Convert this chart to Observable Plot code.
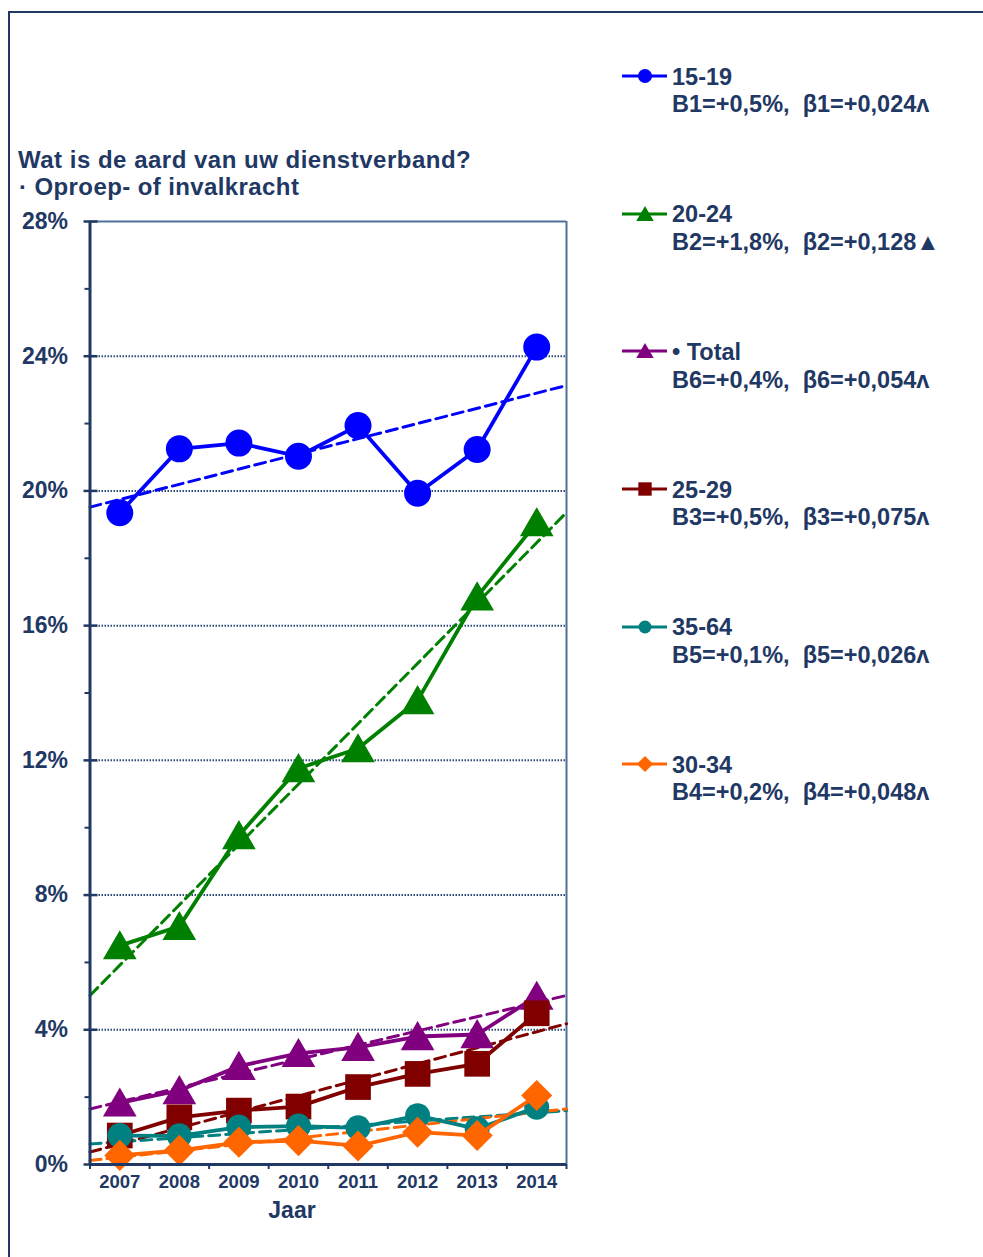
<!DOCTYPE html>
<html><head><meta charset="utf-8">
<script src="https://cdn.jsdelivr.net/npm/d3@7"></script>
<script src="https://cdn.jsdelivr.net/npm/@observablehq/plot@0.6"></script>
<style>
html,body{margin:0;padding:0;background:#fff;overflow:hidden;}
#wrap{position:relative;width:983px;height:1257px;overflow:hidden;font-family:"Liberation Sans",Arial,sans-serif;color:#1f3864;}
#frame{position:absolute;left:8px;top:11px;width:1000px;height:1300px;border:2px solid #1f3864;box-sizing:border-box;}
#chart{position:absolute;left:0;top:0;}
.t{position:absolute;font-weight:bold;white-space:nowrap;line-height:1;}
.sw{position:absolute;}
</style></head><body>
<div id="wrap"><div id="frame"></div><div id="chart"></div><div id="overlay"></div></div>
<script>
// ---- data ----
const years = [2007, 2008, 2009, 2010, 2011, 2012, 2013, 2014];
const yTicks = [0, 4, 8, 12, 16, 20, 24, 28];
const minorTicks = [2, 6, 10, 14, 18, 22, 26];
const gridTicks = [4, 8, 12, 16, 20, 24];
const seriesNames = ["15-19", "20-24", "• Total", "25-29", "35-64", "30-34"];
const v15_19 = [19.35, 21.25, 21.42, 21.03, 21.94, 19.93, 21.23, 24.27];
const v20_24 = [6.5, 7.07, 9.77, 11.76, 12.35, 13.78, 16.86, 19.06];
const vTotal = [1.83, 2.2, 2.92, 3.3, 3.48, 3.8, 3.86, 5.0];
const v25_29 = [0.86, 1.4, 1.6, 1.72, 2.3, 2.69, 2.99, 4.49];
const v35_64 = [0.86, 0.85, 1.11, 1.14, 1.09, 1.45, 1.06, 1.7];
const v30_34 = [0.27, 0.42, 0.66, 0.71, 0.55, 0.96, 0.86, 2.05];
const trendStart = [19.52, 5.02, 1.65, 0.37, 0.61, 0.12];
const trendEnd = [23.13, 19.36, 5.02, 4.18, 1.6, 1.65];
const statLabels = [
  "B1=+0,5%,\u00a0 β1=+0,024ʌ",
  "B2=+1,8%,\u00a0 β2=+0,128▲",
  "B6=+0,4%,\u00a0 β6=+0,054ʌ",
  "B3=+0,5%,\u00a0 β3=+0,075ʌ",
  "B5=+0,1%,\u00a0 β5=+0,026ʌ",
  "B4=+0,2%,\u00a0 β4=+0,048ʌ"
];
const titleLines = ["Wat is de aard van uw dienstverband?", "· Oproep- of invalkracht"];
const xLabel = "Jaar";

// ---- styles ----
const navy = "#1f3864";
const valueSets = [v15_19, v20_24, vTotal, v25_29, v35_64, v30_34];
const styles = [
  {color: "#0000ff", symbol: "circle", r: 13.5, dy: 0},
  {color: "#008000", symbol: "triangle", r: 12.5, dy: 4},
  {color: "#800080", symbol: "triangle", r: 12.5, dy: 4},
  {color: "#800000", symbol: "square", r: 14.5, dy: 0},
  {color: "#008080", symbol: "circle", r: 12.5, dy: 0},
  {color: "#ff6600", symbol: "diamond2", r: 14, dy: 0}
];
const xMin = 2006.5, xMax = 2014.5;
const boundaries = d3.range(xMin, xMax + 0.01, 1);

const mL = 89.5, mR = 983 - 566, mT = 221, mB = 1257 - 1164;
const plotW = 983 - mL - mR;

const trendMarks = [];
const seriesMarks = [];
seriesNames.forEach((name, k) => {
  const st = styles[k];
  const pts = years.map((y, i) => ({year: y, value: valueSets[k][i]}));
  const tr = [{year: xMin, value: trendStart[k]}, {year: xMax, value: trendEnd[k]}];
  trendMarks.push(Plot.line(tr, {x: "year", y: "value", stroke: st.color, strokeWidth: 3, strokeDasharray: "11,6"}));
  seriesMarks.push(Plot.line(pts, {x: "year", y: "value", stroke: st.color, strokeWidth: 3.8}));
  seriesMarks.push(Plot.dot(pts, {x: "year", y: "value", symbol: () => st.symbol, r: st.r, fill: st.color, stroke: "none", dy: st.dy}));
});

const chart = Plot.plot({
  width: 983, height: 1257,
  marginLeft: mL, marginRight: mR, marginTop: mT, marginBottom: mB,
  x: {type: "linear", domain: [xMin, xMax]},
  y: {type: "linear", domain: [0, 28]},
  symbol: {type: "identity"},
  style: {fontFamily: '"Liberation Sans", Arial, sans-serif', color: navy, background: "transparent", overflow: "visible"},
  marks: [
    Plot.ruleY(gridTicks, {stroke: "#2c4a78", strokeWidth: 2, strokeDasharray: "1.5,1.5"}),
    Plot.ruleY([28], {stroke: "#4f6f98", strokeWidth: 2}),
    Plot.ruleX([xMax], {stroke: "#4f6f98", strokeWidth: 2}),
    ...trendMarks,
    ...seriesMarks,
    Plot.ruleX([xMin], {stroke: navy, strokeWidth: 3}),
    Plot.ruleY([0], {stroke: navy, strokeWidth: 3}),
    Plot.ruleY(yTicks, {stroke: navy, strokeWidth: 2.5, insetLeft: -6, insetRight: plotW - 8}),
    Plot.axisY(minorTicks, {tickSize: 5, stroke: navy, strokeWidth: 2, fill: "none", label: null}),
    Plot.axisY(yTicks, {tickSize: 0, tickPadding: 22, tickFormat: d => d + "%", fontSize: 23, fontWeight: "bold", fill: navy, label: null}),
    Plot.axisX(boundaries, {tickSize: 5, stroke: navy, strokeWidth: 2, fill: "none", label: null}),
    Plot.axisX(years, {tickSize: 0, tickPadding: 10, tickFormat: d => String(d), fontSize: 18.5, fontWeight: "bold", fill: navy, label: null})
  ]
});
document.getElementById("chart").appendChild(chart);

// ---- overlay text / legend ----
const ov = document.getElementById("overlay");
function addText(txt, x, baseline, size, extra) {
  const d = document.createElement("div");
  d.className = "t";
  d.textContent = txt;
  d.style.left = x + "px";
  d.style.fontSize = size + "px";
  d.style.top = (baseline - 0.8465 * size) + "px";
  if (extra) Object.assign(d.style, extra);
  ov.appendChild(d);
  return d;
}
addText(titleLines[0], 18, 168.3, 24, {letterSpacing: "0.5px"});
addText(titleLines[1], 19, 195, 24, {letterSpacing: "0.4px"});
const jl = addText(xLabel, 0, 1218.3, 23);
jl.style.left = (292 - jl.getBoundingClientRect().width / 2) + "px";

const legendBase = 85.7, legendStep = 137.6;
seriesNames.forEach((name, k) => {
  const st = styles[k];
  const b = legendBase + legendStep * k;
  addText(name, 672, b, 23.5);
  addText(statLabels[k], 672, b + 27.5, 23.5);
  const cy = b - 9.5;
  const svgNS = "http://www.w3.org/2000/svg";
  const s = document.createElementNS(svgNS, "svg");
  s.setAttribute("width", 50); s.setAttribute("height", 24);
  s.setAttribute("class", "sw");
  s.style.left = "620px"; s.style.top = (cy - 12) + "px";
  const ln = document.createElementNS(svgNS, "line");
  ln.setAttribute("x1", 2); ln.setAttribute("x2", 47); ln.setAttribute("y1", 12); ln.setAttribute("y2", 12);
  ln.setAttribute("stroke", st.color); ln.setAttribute("stroke-width", 3);
  s.appendChild(ln);
  const p = document.createElementNS(svgNS, "path");
  const symMap = {circle: d3.symbolCircle, triangle: d3.symbolTriangle, square: d3.symbolSquare, diamond2: d3.symbolDiamond2};
  const rr = st.r * 0.52;
  p.setAttribute("d", d3.symbol(symMap[st.symbol], Math.PI * rr * rr)());
  p.setAttribute("transform", `translate(25,${12 + st.dy * 0.5})`);
  p.setAttribute("fill", st.color);
  s.appendChild(p);
  ov.appendChild(s);
});
</script>
</body></html>
